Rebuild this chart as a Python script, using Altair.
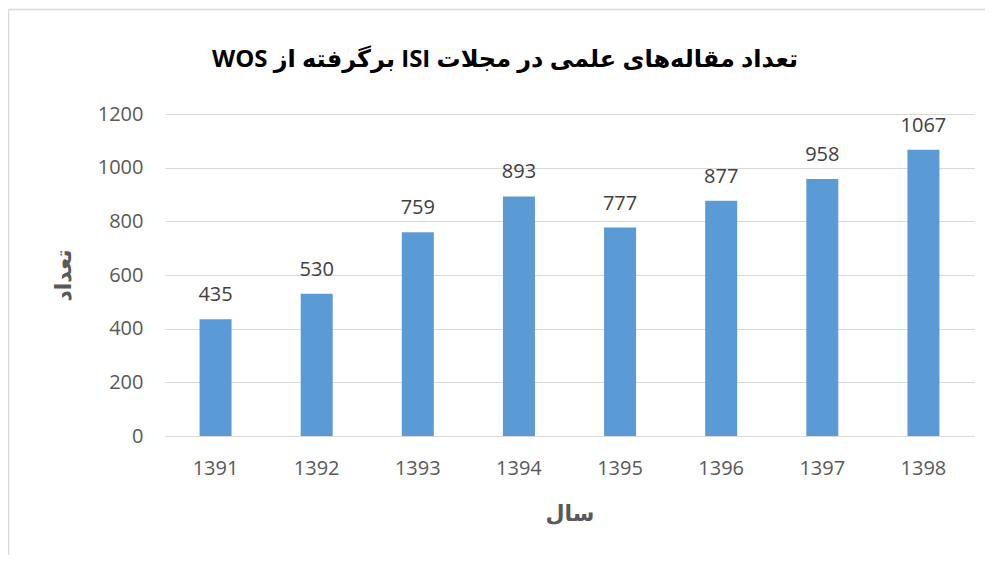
import altair as alt
import pandas as pd

years = ["1391", "1392", "1393", "1394", "1395", "1396", "1397", "1398"]
counts = [435, 530, 759, 893, 777, 877, 958, 1067]

title_text = "\u202Bتعداد مقاله‌های علمی در مجلات  ISI برگرفته از WOS\u202C"
x_title = "سال"
y_title = "تعداد"

df = pd.DataFrame({"year": years, "count": counts})

FONT = "Open Sans, DejaVu Sans"
GRAY = "#595959"

base = alt.Chart(df)

bars = base.mark_bar(size=32, color="#5B9BD5").encode(
    x=alt.X(
        "year:N",
        sort=years,
        scale=alt.Scale(paddingInner=0.683, paddingOuter=0.3415),
        axis=alt.Axis(
            title=x_title,
            labelAngle=0,
            labelFont=FONT,
            labelFontSize=20,
            labelColor=GRAY,
            labelPadding=22,
            ticks=False,
            tickSize=0,
            domain=True,
            domainColor="#D9D9D9",
            domainWidth=1,
            titleFont=FONT,
            titleFontSize=22,
            titleFontWeight="bold",
            titleColor=GRAY,
            titleBaseline="middle",
            titleY=77,
        ),
    ),
    y=alt.Y(
        "count:Q",
        scale=alt.Scale(domain=[0, 1200]),
        axis=alt.Axis(
            title=y_title,
            values=[0, 200, 400, 600, 800, 1000, 1200],
            format="d",
            labelFont=FONT,
            labelFontSize=20,
            labelColor=GRAY,
            labelPadding=22,
            ticks=False,
            tickSize=0,
            domain=False,
            grid=True,
            gridColor="#D9D9D9",
            gridWidth=1,
            titleFont=FONT,
            titleFontSize=22,
            titleFontWeight="bold",
            titleColor=GRAY,
            titleAngle=270,
            titleBaseline="middle",
            titleX=-102,
            titleY=161,
        ),
    ),
)

labels = base.mark_text(
    dy=-18, baseline="alphabetic", fontSize=20, font=FONT, color="#404040"
).encode(
    x=alt.X("year:N", sort=years),
    y=alt.Y("count:Q"),
    text=alt.Text("count:Q", format="d"),
)

one = alt.Data(values=[{"t": title_text}])
border_left = alt.Chart(one).mark_rule(color="#D9D9D9", strokeWidth=1.5).encode(
    x=alt.value(-156.5), y=alt.value(-104.5), y2=alt.value(600)
)
border_top = alt.Chart(one).mark_rule(color="#D9D9D9", strokeWidth=1.5).encode(
    x=alt.value(-156.5), x2=alt.value(1000), y=alt.value(-104.5)
)
title = alt.Chart(one).mark_text(
    font=FONT, fontSize=24, fontWeight="bold", color="black",
    align="center", baseline="alphabetic"
).encode(
    x=alt.value(340), y=alt.value(-47), text="t:N"
)

chart = (
    alt.layer(border_left, border_top, bars, labels, title)
    .properties(
        width=809,
        height=322,
        autosize=alt.AutoSizeParams(type="none"),
        padding={"left": 157, "top": 106, "right": 11, "bottom": 119},
        background="white",
    )
    .configure_view(stroke=None)
)

chart.save("out.html", embed_options={"renderer": "svg", "actions": False})
